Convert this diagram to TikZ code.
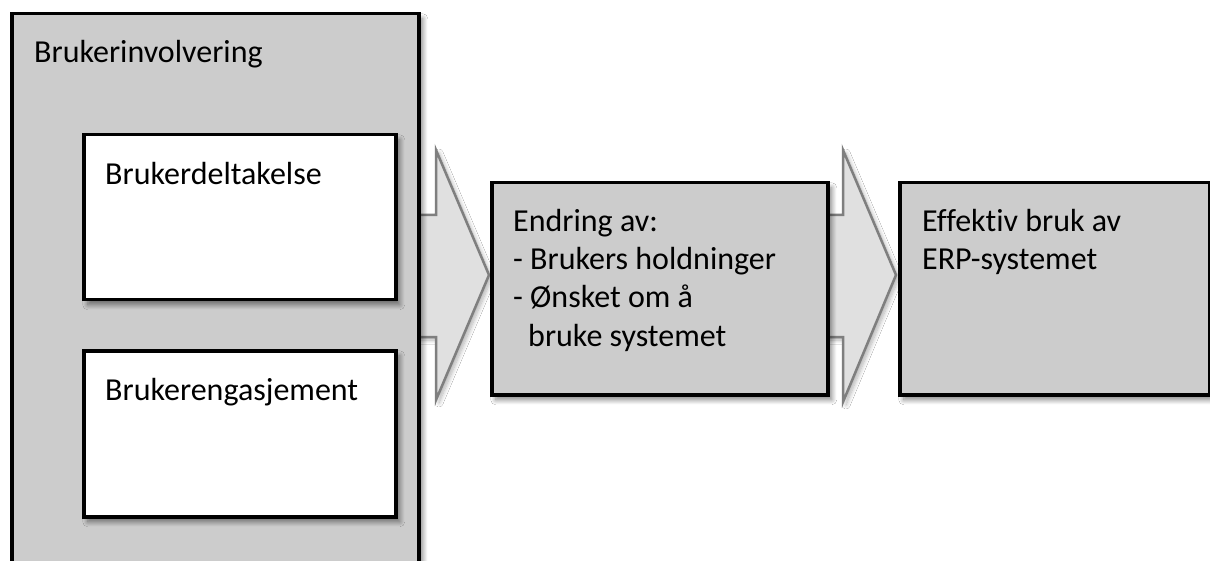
\documentclass[tikz,border=0pt]{standalone}
\usepackage{fontspec}
\setmainfont[Ligatures={NoCommon}]{Carlito}
\usetikzlibrary{shadows.blur}

\definecolor{boxgray}{HTML}{CCCCCC}
\definecolor{arrowfill}{HTML}{E0E0E0}
\definecolor{arrowline}{HTML}{7F7F7F}

\tikzset{
  frame/.style={draw=black, line width=3.5pt, inner sep=0pt, anchor=north west,
    blur shadow={shadow xshift=4pt, shadow yshift=-5pt, shadow blur radius=5pt,
      shadow blur steps=10, shadow opacity=50}},
  graybox/.style={frame, fill=boxgray},
  whitebox/.style={frame, fill=white},
  label/.style={anchor=base west, inner sep=0pt, font=\fontsize{32}{38}\selectfont},
  flow/.style={draw=arrowline, fill=arrowfill, line width=2.5pt, line join=miter,
    blur shadow={shadow xshift=3pt, shadow yshift=-3pt, shadow blur radius=4pt,
      shadow blur steps=8, shadow opacity=30}}
}

\begin{document}
\begin{tikzpicture}[x=1pt, y=-1pt]
  \useasboundingbox (0,0) rectangle (1210,561);
  \clip (0,0) rectangle (1210,561);
  \fill[white] (0,0) rectangle (1210,561);

  % broad arrows between the stages
  \path[flow] (414,215) -- (436,215) -- (436,150) -- (489,275) -- (436,400)
              -- (436,337) -- (414,337);
  \path[flow] (824,215) -- (843,215) -- (843,150) -- (896,275) -- (843,402)
              -- (843,337) -- (824,337);

  % left stage: user involvement with its two parts
  \node[graybox, minimum width=407pt, minimum height=620pt] (outer) at (10,12) {};
  \node[whitebox, minimum width=312pt, minimum height=165pt] (part1) at (82,133) {};
  \node[whitebox, minimum width=312pt, minimum height=166pt] (part2) at (82,349) {};

  % middle and right stages
  \node[graybox, minimum width=336pt, minimum height=212pt] (change) at (490,181) {};
  \node[graybox, minimum width=310pt, minimum height=212pt] (result) at (898,181) {};

  % texts
  \node[label] (t0) at (34,63) {Brukerinvolvering};
  \node[label] (t1) at (105,185) {Brukerdeltakelse};
  \node[label] (t2) at (105,400) {Brukerengasjement};

  \node[label] (c1) at (513,232) {Endring av:};
  \node[label] (c2) at (513,270) {- Brukers holdninger};
  \node[label] (c3) at (513,308) {- Ønsket om å};
  \node[label] (c4) at (528,346) {bruke systemet};

  \node[label] (r1) at (922,232) {Effektiv bruk av};
  \node[label] (r2) at (922,270) {ERP-systemet};
\end{tikzpicture}
\end{document}
